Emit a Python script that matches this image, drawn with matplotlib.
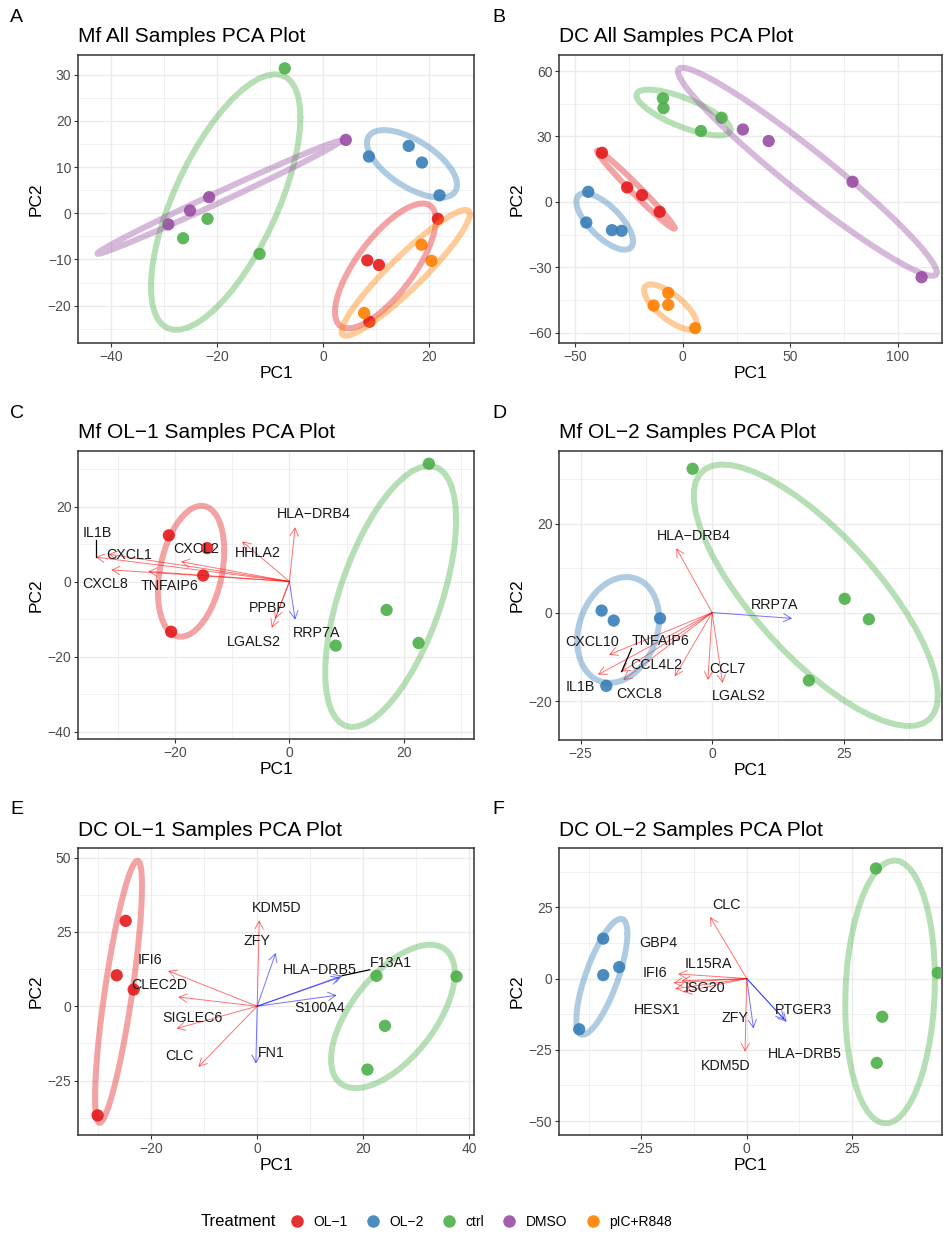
import numpy as np
import matplotlib
matplotlib.use("Agg")
import matplotlib.pyplot as plt
from matplotlib.ticker import MultipleLocator
from matplotlib.lines import Line2D

plt.rcParams["font.family"] = ["Liberation Sans", "DejaVu Sans"]

treatments = ["OL-1", "OL-2", "ctrl", "DMSO", "pIC+R848"]
treat_colors = ["#E41A1C", "#377EB8", "#4DAF4A", "#984EA3", "#FF7F00"]

# --- sample scores ---
a_group = ["OL-1"] * 4 + ["OL-2"] * 4 + ["ctrl"] * 4 + ["DMSO"] * 4 + ["pIC+R848"] * 3
a_pc1 = [21.6, 8.3, 10.5, 8.7, 8.6, 16.1, 18.6, 21.9, -7.25, -21.8, -26.4, -12.0,
         4.25, -21.5, -25.1, -29.2, 18.5, 7.7, 20.4]
a_pc2 = [-1.2, -10.2, -11.2, -23.5, 12.3, 14.6, 11.0, 3.9, 31.4, -1.2, -5.4, -8.8,
         15.9, 3.5, 0.6, -2.4, -6.8, -21.6, -10.3]

b_group = ["OL-1"] * 4 + ["OL-2"] * 4 + ["ctrl"] * 4 + ["DMSO"] * 4 + ["pIC+R848"] * 4
b_pc1 = [-37.6, -25.9, -19.0, -10.8, -44.0, -44.9, -33.0, -28.5, -9.3, -9.0, 18.0, 8.4,
         27.9, 39.9, 78.9, 111.0, -6.8, -13.6, -6.8, 5.7]
b_pc2 = [22.5, 6.6, 3.1, -4.6, 4.6, -9.5, -13.0, -13.3, 47.5, 43.0, 38.6, 32.5,
         33.2, 27.9, 9.2, -34.6, -41.8, -47.6, -47.3, -58.0]

c_group = ["OL-1"] * 4 + ["ctrl"] * 4
c_pc1 = [-21.1, -14.4, -15.1, -20.7, 24.4, 17.0, 22.6, 8.1]
c_pc2 = [12.3, 8.9, 1.6, -13.4, 31.4, -7.6, -16.4, -17.1]

d_group = ["OL-2"] * 4 + ["ctrl"] * 4
d_pc1 = [-21.0, -18.7, -9.9, -20.1, -3.7, 25.2, 29.8, 18.4]
d_pc2 = [0.45, -1.8, -1.3, -16.5, 32.4, 3.1, -1.5, -15.3]

e_group = ["OL-1"] * 4 + ["ctrl"] * 4
e_pc1 = [-24.8, -26.5, -23.3, -30.1, 22.5, 37.6, 24.1, 20.8]
e_pc2 = [28.7, 10.4, 5.6, -36.7, 10.2, 10.0, -6.6, -21.3]

f_group = ["OL-2"] * 4 + ["ctrl"] * 4
f_pc1 = [-34.1, -34.1, -30.3, -39.8, 30.7, 45.4, 32.2, 30.9]
f_pc2 = [14.0, 1.2, 4.0, -17.8, 38.6, 2.0, -13.4, -29.6]

# --- gene loadings (arrow tips), up = red, down = blue ---
c_genes = ["HLA-DRB4", "HHLA2", "CXCL2", "IL1B", "CXCL1", "CXCL8", "TNFAIP6", "PPBP", "LGALS2", "RRP7A"]
c_load1 = [1.0, -8.3, -19.0, -33.9, -31.7, -31.2, -24.7, -2.5, -3.1, 1.0]
c_load2 = [14.5, 10.7, 5.3, 6.5, 7.3, 3.1, 2.7, -10.0, -12.4, -10.2]
c_dir = ["up"] * 9 + ["down"]
c_lab1 = [4.2, -5.6, -16.3, -33.6, -28.0, -32.2, -20.9, -3.8, -6.3, 4.7]
c_lab2 = [18.0, 7.6, 8.7, 12.9, 7.1, -0.6, -1.3, -7.1, -16.0, -13.8]

d_genes = ["HLA-DRB4", "RRP7A", "CXCL10", "IL1B", "TNFAIP6", "CCL4L2", "CXCL8", "CCL7", "LGALS2"]
d_load1 = [-6.8, 15.2, -19.6, -21.7, -17.2, -7.1, -16.9, -0.8, 2.0]
d_load2 = [14.5, -1.3, -9.5, -14.0, -13.3, -14.4, -15.2, -15.2, -15.9]
d_dir = ["up", "down", "up", "up", "up", "up", "up", "up", "up"]
d_lab1 = [-3.5, 11.9, -22.8, -25.0, -9.8, -10.6, -13.9, 3.0, 5.1]
d_lab2 = [17.3, 1.6, -6.7, -16.8, -6.5, -11.9, -18.3, -12.8, -18.9]

e_genes = ["KDM5D", "ZFY", "HLA-DRB5", "F13A1", "S100A4", "FN1", "IFI6", "CLEC2D", "SIGLEC6", "CLC"]
e_load1 = [0.4, 3.5, 15.6, 16.1, 15.0, -0.25, -16.8, -14.9, -15.2, -11.1]
e_load2 = [28.9, 17.9, 9.7, 10.3, 3.7, -19.3, 11.9, 3.1, -7.5, -20.4]
e_dir = ["up", "down", "down", "down", "down", "down", "up", "up", "up", "up"]
e_lab1 = [3.6, 0.0, 11.9, 25.2, 11.8, 2.7, -20.3, -18.4, -12.2, -14.6]
e_lab2 = [33.1, 21.9, 12.1, 14.6, -0.6, -15.7, 15.5, 7.3, -3.9, -16.7]

f_genes = ["CLC", "GBP4", "IL15RA", "IFI6", "ISG20", "HESX1", "ZFY", "PTGER3", "HLA-DRB5", "KDM5D"]
f_load1 = [-8.7, -16.3, -15.5, -17.4, -15.1, -17.0, 1.6, 9.5, 9.0, -0.4]
f_load2 = [21.6, 1.6, -0.8, -1.5, -4.7, -3.6, -17.5, -15.2, -14.5, -25.7]
f_dir = ["up"] * 6 + ["down", "down", "down", "up"]
f_lab1 = [-4.8, -21.0, -9.1, -21.8, -9.9, -21.2, -2.8, 13.5, 13.7, -4.9]
f_lab2 = [25.9, 12.6, 5.0, 2.0, -3.2, -10.9, -14.0, -11.1, -26.5, -30.6]

# labels joined to their arrow by a leader line
leader_genes = {"C": ["IL1B"], "D": ["TNFAIP6"], "E": ["F13A1"]}


def cov_trob(x, nu=5, maxit=25, tol=0.01):
    # robust multivariate-t location/scatter (same steps as MASS::cov.trob)
    x = np.asarray(x, float)
    n, p = x.shape
    wt = np.ones(n)
    loc = x.mean(axis=0)
    w = np.sqrt(wt)
    for _ in range(maxit):
        w0 = w
        X = x - loc
        _, d, vt = np.linalg.svd(np.sqrt(w / w.sum())[:, None] * X, full_matrices=False)
        wX = X @ vt.T @ np.diag(1 / d)
        Q = (wX ** 2).sum(axis=1)
        w = wt * (nu + p) / (nu + Q)
        loc = (w[:, None] * x).sum(axis=0) / w.sum()
        if np.all(np.abs(w - w0) < tol):
            break
    sw = np.sqrt(w)[:, None] * X
    return loc, sw.T @ sw / wt.sum()


def ellipse_path(x, level=0.7, segments=51):
    loc, shape = cov_trob(x)
    dfd = len(x) - 1
    fq = dfd / 2 * ((1 - level) ** (-2 / dfd) - 1)  # F(2, dfd) quantile
    radius = np.sqrt(2 * fq)
    ang = np.linspace(0, 2 * np.pi, segments + 1)
    circ = np.column_stack([np.cos(ang), np.sin(ang)])
    L = np.linalg.cholesky(shape)
    return loc + radius * circ @ L.T


panels = {
    "A": dict(title="Mf All Samples PCA Plot", group=a_group, pc1=a_pc1, pc2=a_pc2,
              box=(78, 55, 474, 343), xlim=(-46.2, 28.4), ylim=(-28.1, 34.3), xs=20, ys=10),
    "B": dict(title="DC All Samples PCA Plot", group=b_group, pc1=b_pc1, pc2=b_pc2,
              box=(559, 55, 942, 343), xlim=(-57.6, 120.5), ylim=(-64.8, 67.4), xs=50, ys=30),
    "C": dict(title="Mf OL\u22121 Samples PCA Plot", group=c_group, pc1=c_pc1, pc2=c_pc2,
              box=(78, 451, 474, 739), xlim=(-37.0, 32.3), ylim=(-42.0, 34.8), xs=20, ys=20,
              genes=c_genes, l1=c_load1, l2=c_load2, dirs=c_dir, t1=c_lab1, t2=c_lab2),
    "D": dict(title="Mf OL\u22122 Samples PCA Plot", group=d_group, pc1=d_pc1, pc2=d_pc2,
              box=(559, 451, 942, 740), xlim=(-29.1, 43.7), ylim=(-28.7, 36.4), xs=25, ys=20,
              genes=d_genes, l1=d_load1, l2=d_load2, dirs=d_dir, t1=d_lab1, t2=d_lab2),
    "E": dict(title="DC OL\u22121 Samples PCA Plot", group=e_group, pc1=e_pc1, pc2=e_pc2,
              box=(78, 848, 474, 1135), xlim=(-33.8, 40.9), ylim=(-43.3, 53.2), xs=20, ys=25,
              genes=e_genes, l1=e_load1, l2=e_load2, dirs=e_dir, t1=e_lab1, t2=e_lab2),
    "F": dict(title="DC OL\u22122 Samples PCA Plot", group=f_group, pc1=f_pc1, pc2=f_pc2,
              box=(559, 848, 942, 1135), xlim=(-44.6, 46.4), ylim=(-54.9, 45.8), xs=25, ys=25,
              genes=f_genes, l1=f_load1, l2=f_load2, dirs=f_dir, t1=f_lab1, t2=f_lab2),
}

W, H = 947, 1236
fig = plt.figure(figsize=(W / 100, H / 100), dpi=100)
renderer = fig.canvas.get_renderer()
col_of = dict(zip(treatments, treat_colors))
arrow_col = {"up": "#FF0000", "down": "#0000FF"}

for key, p in panels.items():
    l, t, r, b = p["box"]
    ax = fig.add_axes([l / W, 1 - b / H, (r - l) / W, (b - t) / H])
    ax.set_xlim(*p["xlim"])
    ax.set_ylim(*p["ylim"])
    ax.xaxis.set_major_locator(MultipleLocator(p["xs"]))
    ax.xaxis.set_minor_locator(MultipleLocator(p["xs"] / 2))
    ax.yaxis.set_major_locator(MultipleLocator(p["ys"]))
    ax.yaxis.set_minor_locator(MultipleLocator(p["ys"] / 2))
    ax.grid(which="major", color="#EBEBEB", lw=1.0, zorder=0)
    ax.grid(which="minor", color="#EBEBEB", lw=0.5, zorder=0)
    ax.set_axisbelow(True)
    ax.tick_params(which="minor", length=0)
    ax.tick_params(which="major", length=2.75, width=0.8, color="#333333",
                   labelsize=10, labelcolor="#4D4D4D", pad=2)
    for s in ax.spines.values():
        s.set_color("#333333")
        s.set_linewidth(1.1)

    # arrows first, then points, then ellipses, then labels
    if "genes" in p:
        for x1, y1, dr in zip(p["l1"], p["l2"], p["dirs"]):
            ax.annotate("", xy=(x1, y1), xytext=(0, 0),
                        arrowprops=dict(arrowstyle="->,head_length=0.55,head_width=0.3",
                                        color=arrow_col[dr], alpha=0.55, lw=0.7,
                                        shrinkA=0, shrinkB=0), zorder=2)

    grp = np.array(p["group"])
    xy = np.column_stack([p["pc1"], p["pc2"]])
    ax.scatter(xy[:, 0], xy[:, 1], c=[col_of[g] for g in grp], s=78, alpha=0.9,
               linewidths=0, zorder=3)
    for g in treatments:
        m = grp == g
        if m.sum() < 3:
            continue
        e = ellipse_path(xy[m])
        ax.plot(e[:, 0], e[:, 1], color=col_of[g], lw=4.3, alpha=0.4,
                solid_capstyle="round", zorder=4)

    if "genes" in p:
        for gname, x1, y1, tx, ty in zip(p["genes"], p["l1"], p["l2"], p["t1"], p["t2"]):
            txt = ax.text(tx, ty, gname.replace("-", "\u2212"), ha="center", va="center",
                          fontsize=10.3, color="#1A1A1A", zorder=5)
            if gname in leader_genes.get(key, []):
                bb = txt.get_window_extent(renderer)
                tip = ax.transData.transform((x1, y1))
                near = (np.clip(tip[0], bb.x0, bb.x1), np.clip(tip[1], bb.y0, bb.y1))
                seg = ax.transData.inverted().transform([near, tip])
                ax.plot(seg[:, 0], seg[:, 1], color="black", lw=0.9, zorder=5)

    ax.set_xlabel("PC1", fontsize=12.5, labelpad=2)
    ax.set_ylabel("PC2", fontsize=12.5, labelpad=3)
    ax.set_title(p["title"], loc="left", fontsize=15, pad=9)
    fig.text((l - 68) / W if l < 300 else (l - 67) / W, 1 - (t - 38) / H, key,
             fontsize=14, ha="left", va="center")

# legend along the bottom
fig.text(201 / W, 1 - 1222 / H, "Treatment", fontsize=12, ha="left", va="center")
handles = [Line2D([], [], ls="", marker="o", ms=9, mew=0, color=c, alpha=0.9) for c in treat_colors]
fig.legend(handles, [t.replace("-", "\u2212") for t in treatments], loc="center left",
           bbox_to_anchor=(276 / W, 1 - 1222 / H), ncol=5, frameon=False, fontsize=10,
           handletextpad=0.6, columnspacing=1.2, handlelength=1.2)

fig.savefig("out.png", dpi=100)
